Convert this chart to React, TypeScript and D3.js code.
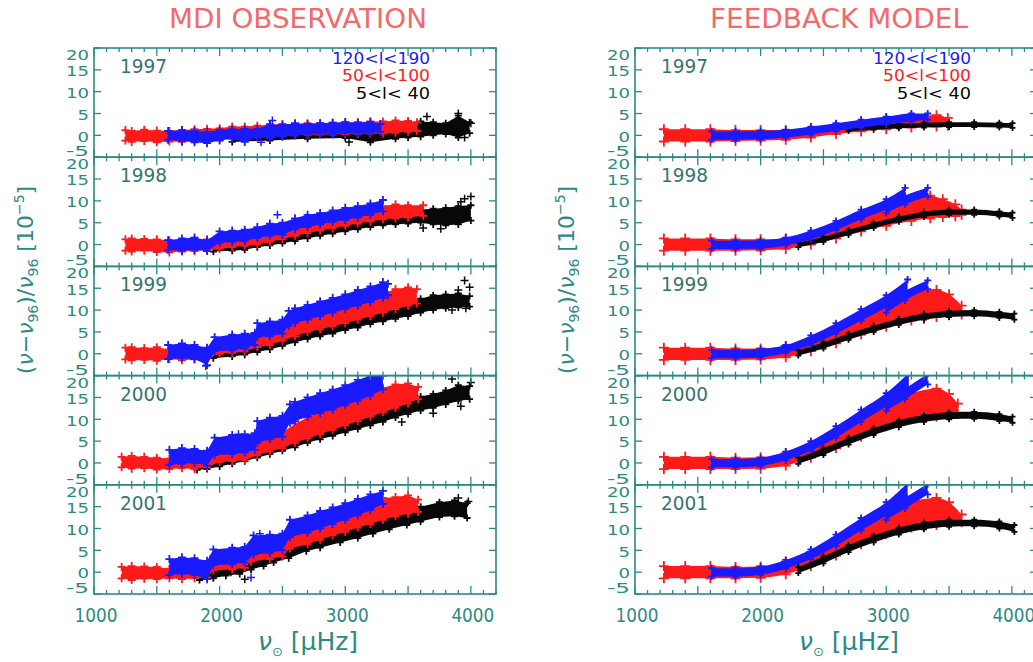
import * as d3 from "d3";

type Row = [number, number, number];
type Pt = [number, number];

const years = ["1997", "1998", "1999", "2000", "2001"];
const freqDomain: Pt = [1000, 4200];
const valueDomain: Pt = [-5, 20];
const freqLabels = [1000, 2000, 3000, 4000];
const valueTicks = [-5, 0, 5, 10, 15, 20];
const legendLabels = ["120<l<190", "50<l<100", "5<l< 40"];

// observation bands: [freq µHz, low, high] in 1e-5, one list per year
const obsRed: Row[][] = [
  [[1250,-1.2,1.2],[1300,-1.5,1.0],[1400,-1.3,1.3],[1500,-1.6,1.1],[1600,-1.4,1.0],[1700,-1.5,1.2],[1800,-1.2,1.4],[1900,-1.0,1.5],[2000,-0.9,1.6],[2100,-0.6,2.0],[2200,-0.5,2.0],[2300,-0.3,2.2],[2400,-0.2,2.5],[2500,-0.1,2.6],[2600,0.0,2.6],[2700,0.1,2.8],[2800,0.2,2.8],[2900,0.2,2.9],[3000,0.3,3.0],[3100,0.3,3.0],[3200,0.4,3.2],[3300,0.4,3.2],[3400,0.6,3.4],[3500,0.8,3.3],[3570,1.0,3.0]],
  [[1250,-1.4,1.2],[1300,-1.6,1.4],[1400,-1.4,1.3],[1500,-1.7,1.2],[1600,-1.8,1.0],[1700,-1.6,0.9],[1800,-1.5,1.0],[1900,-1.3,1.2],[2000,-1.0,1.6],[2100,-0.6,2.0],[2200,-0.3,2.5],[2300,0.0,2.6],[2400,0.6,3.0],[2500,1.2,3.8],[2600,2.0,4.8],[2700,2.6,5.4],[2800,3.2,6.0],[2900,3.7,6.5],[3000,4.3,7.2],[3100,4.8,7.8],[3200,5.3,8.3],[3300,5.8,8.8],[3400,6.0,9.2],[3500,6.2,9.0],[3620,6.6,9.0]],
  [[1250,-1.3,1.4],[1300,-1.5,1.5],[1400,-1.4,1.3],[1500,-1.6,1.5],[1600,-1.2,1.0],[1700,-1.5,0.8],[1800,-1.3,1.0],[1900,-1.0,1.2],[2000,0.0,3.0],[2100,0.2,3.2],[2200,0.5,3.5],[2300,1.5,4.5],[2400,2.0,5.0],[2500,3.0,6.5],[2600,4.0,7.5],[2700,5.0,8.5],[2800,5.6,9.4],[2900,6.3,10.2],[3000,7.0,11.0],[3100,7.8,11.8],[3200,8.6,12.8],[3300,9.4,13.8],[3400,10.2,14.8],[3500,11.0,15.2],[3570,11.5,14.8]],
  [[1220,-1.0,1.4],[1300,-1.3,1.6],[1400,-1.2,1.4],[1500,-1.5,1.2],[1600,-1.4,1.0],[1700,-1.2,0.8],[1800,-1.4,0.6],[1900,-1.0,1.0],[2000,0.2,3.2],[2100,0.4,3.4],[2200,0.6,3.6],[2300,1.8,5.6],[2400,2.6,6.0],[2500,3.4,7.0],[2600,4.6,9.0],[2700,5.6,10.4],[2800,6.6,11.6],[2900,7.6,12.6],[3000,8.6,13.6],[3100,9.6,14.8],[3200,10.6,16.0],[3300,11.6,17.2],[3400,12.6,18.0],[3500,13.6,18.2],[3580,14.6,17.4]],
  [[1220,-1.4,1.2],[1300,-1.8,1.4],[1400,-1.5,1.3],[1500,-1.6,1.2],[1600,-1.4,0.8],[1700,-1.6,0.6],[1800,-1.4,0.6],[1900,-1.2,0.8],[1950,0.4,3.8],[2100,0.6,4.0],[2200,1.0,4.2],[2250,2.4,6.4],[2400,3.0,6.8],[2500,3.6,7.4],[2560,5.4,9.6],[2700,6.4,10.8],[2800,7.4,12.0],[2900,8.4,13.0],[3000,9.2,14.0],[3100,10.2,15.0],[3200,11.0,16.0],[3300,12.0,17.0],[3400,12.8,17.2],[3500,13.4,17.6],[3580,13.8,16.6]],
];

const obsBlue: Row[][] = [
  [[1590,-1.0,1.0],[1700,-1.3,1.2],[1800,-1.6,1.0],[1900,-1.8,0.8],[2000,-1.2,1.2],[2100,-0.8,1.4],[2200,-1.5,1.5],[2300,-0.5,1.5],[2400,-0.6,2.5],[2500,-0.3,2.4],[2600,0.0,2.8],[2700,0.2,2.6],[2800,0.4,2.8],[2900,0.3,2.9],[3000,0.5,3.0],[3100,0.4,2.9],[3200,0.6,3.1],[3280,0.8,2.6]],
  [[1590,-1.2,1.0],[1700,-1.4,1.4],[1800,-1.2,1.6],[1900,-1.5,1.0],[2000,0.4,3.0],[2100,0.6,3.2],[2200,0.8,3.4],[2300,1.5,4.0],[2400,2.0,4.8],[2500,2.2,5.0],[2600,3.5,6.0],[2700,4.0,6.8],[2800,4.6,7.2],[2900,5.2,7.8],[3000,5.6,8.4],[3100,6.2,8.8],[3200,6.8,9.4],[3300,7.6,10.2]],
  [[1590,-1.2,2.0],[1700,-1.0,2.4],[1800,-1.2,2.0],[1900,-2.6,1.4],[1960,0.6,3.8],[2100,0.8,4.4],[2200,1.2,4.6],[2280,2.0,4.8],[2300,3.8,7.0],[2400,4.0,7.4],[2500,4.6,7.8],[2550,6.4,9.8],[2600,7.0,10.4],[2700,7.8,11.2],[2800,8.6,12.0],[2900,9.4,12.8],[3000,10.2,13.6],[3100,11.0,14.6],[3200,11.8,15.4],[3300,12.8,16.4],[3340,13.4,16.0]],
  [[1600,-0.4,3.0],[1700,-0.2,3.4],[1800,0.0,3.2],[1900,-0.6,2.8],[1960,1.8,5.8],[2100,2.0,6.4],[2200,2.4,6.6],[2280,3.0,6.8],[2300,4.6,9.6],[2400,5.4,10.4],[2500,6.0,10.8],[2560,9.2,13.4],[2600,9.6,14.0],[2700,10.6,15.0],[2800,11.4,16.0],[2900,12.2,16.8],[3000,13.2,17.8],[3100,14.2,19.0],[3200,15.4,20.0],[3300,16.8,20.0]],
  [[1600,-0.6,3.0],[1700,-0.4,3.4],[1800,-0.6,3.2],[1900,-1.6,2.6],[1950,1.6,5.2],[2100,1.8,5.6],[2200,2.2,5.8],[2270,4.0,8.4],[2400,4.4,8.6],[2500,5.0,8.8],[2560,8.0,12.0],[2700,9.0,13.0],[2800,10.0,14.0],[2900,11.0,14.8],[3000,12.0,15.8],[3100,13.0,16.8],[3200,14.2,17.8],[3300,15.6,18.6]],
];

const obsBlack: Row[][] = [
  [[2100,-1.5,0.5],[2400,-1.2,1.0],[2700,-0.8,1.5],[3000,-0.6,2.0],[3200,-1.6,2.2],[3400,-0.8,2.6],[3500,-0.5,3.0],[3600,-0.3,3.2],[3700,0.0,3.0],[3800,0.3,2.8],[3900,-0.5,4.5],[3990,0.5,3.0]],
  [[1950,-1.6,0.2],[2100,-1.4,0.6],[2200,-1.2,0.8],[2300,-0.6,1.2],[2400,-0.2,1.6],[2500,0.3,2.2],[2600,0.8,2.8],[2700,1.4,3.4],[2800,2.0,4.0],[2900,2.5,4.5],[3000,3.0,5.2],[3100,3.5,5.8],[3200,4.0,6.4],[3300,4.4,6.8],[3400,4.6,7.4],[3500,4.8,7.8],[3600,5.0,8.0],[3700,4.6,8.2],[3800,4.4,8.4],[3900,4.6,8.8],[4000,5.5,9.0]],
  [[1950,-1.0,1.0],[2100,-0.6,1.6],[2200,-0.2,2.0],[2300,0.4,2.8],[2400,1.0,3.4],[2500,1.8,4.2],[2600,2.6,5.0],[2700,3.4,5.8],[2800,4.0,6.6],[2900,4.6,7.4],[3000,5.4,8.2],[3100,6.0,9.0],[3200,6.8,9.6],[3300,7.4,10.4],[3400,8.0,11.0],[3500,8.6,11.8],[3600,9.4,12.6],[3700,10.0,13.4],[3800,10.4,13.6],[3900,10.6,13.8],[3990,10.8,13.2]],
  [[1820,-1.6,0.2],[1900,-1.4,0.6],[2000,-0.8,1.4],[2100,-0.2,2.0],[2200,0.4,2.8],[2300,1.2,3.6],[2400,2.0,4.4],[2500,2.8,5.2],[2600,3.6,6.4],[2700,4.6,7.4],[2800,5.4,8.2],[2900,6.2,9.0],[3000,7.0,10.0],[3100,7.8,11.0],[3200,8.6,12.0],[3300,9.4,12.8],[3400,10.4,13.8],[3500,11.2,14.6],[3600,12.0,15.2],[3700,12.6,15.8],[3800,13.4,16.6],[3900,14.2,17.8],[3990,14.6,17.6]],
  [[1840,-1.8,0.0],[1950,-1.4,0.6],[2050,-0.8,1.2],[2160,-0.4,1.8],[2250,0.6,3.0],[2350,1.4,4.0],[2430,2.2,5.0],[2550,3.2,6.2],[2690,4.8,7.8],[2800,5.6,8.6],[2960,6.8,9.8],[3100,7.8,11.0],[3220,8.8,12.0],[3350,9.8,13.0],[3490,10.8,14.2],[3600,11.6,15.0],[3750,12.6,16.0],[3870,12.8,16.4],[3970,12.4,15.8]],
];

// loose single points: [freq, value]
const obsBlackStray: Pt[][] = [
  [[3650,4.3],[3900,5.0],[3950,-0.5],[3030,-1.5],[4000,2.8]],
  [[3950,10.5],[4000,11.0],[3920,9.8],[3760,3.6],[3620,3.8]],
  [[3950,16.8],[3990,15.2],[3900,14.6],[3960,10.4],[3850,10.0]],
  [[3920,13.0],[4000,18.4],[3450,9.4],[3700,11.4],[3850,19.2]],
  [[2200,-1.6],[2090,0.0],[3900,17.0],[3980,16.2]],
];
const obsBlueStray: Pt[][] = [
  [[2420,3.4],[2330,-1.6]],
  [[2460,6.8]],
  [[1890,-2.8]],
  [[2150,6.6]],
  [[2250,-1.2],[2320,8.8]],
];

// feedback model bands
const modRed: Row[][] = [
  [[1230,-1.4,1.4],[1400,-1.4,1.4],[1600,-1.4,1.4],[1800,-1.3,1.2],[2000,-1.2,1.2],[2200,-1.0,1.2],[2400,-0.5,1.6],[2600,0.3,2.4],[2800,0.9,3.2],[3000,1.4,3.8],[3200,1.8,4.4],[3400,2.0,4.6],[3490,2.2,4.0]],
  [[1230,-1.4,1.4],[1400,-1.4,1.4],[1600,-1.4,1.4],[1800,-1.4,1.2],[2000,-1.3,1.2],[2200,-1.0,1.4],[2400,0.0,2.4],[2600,1.4,4.2],[2800,3.0,6.4],[3000,4.3,8.4],[3200,5.4,10.6],[3350,6.0,11.2],[3450,6.3,10.4],[3550,6.5,9.2],[3600,6.8,8.0]],
  [[1230,-1.4,1.4],[1400,-1.4,1.4],[1600,-1.4,1.4],[1800,-1.4,1.2],[2000,-1.3,1.2],[2200,-0.8,1.8],[2400,0.6,3.4],[2600,2.4,6.0],[2800,4.4,9.0],[3000,6.2,11.6],[3200,7.6,13.8],[3300,8.0,14.6],[3400,8.4,14.6],[3500,8.8,13.6],[3600,9.0,11.0]],
  [[1230,-1.4,1.4],[1400,-1.4,1.4],[1600,-1.4,1.4],[1800,-1.4,1.2],[2000,-1.3,1.3],[2200,-0.6,2.2],[2400,1.2,4.2],[2600,3.4,7.4],[2800,6.0,10.8],[3000,8.4,13.8],[3200,10.0,16.0],[3400,10.6,17.0],[3500,11.0,15.8],[3570,11.2,13.6]],
  [[1230,-1.4,1.4],[1400,-1.4,1.4],[1600,-1.4,1.4],[1800,-1.4,1.2],[2000,-1.3,1.3],[2200,-0.5,2.4],[2400,1.4,4.6],[2600,3.8,7.8],[2800,6.4,11.0],[3000,8.8,14.0],[3200,10.2,16.2],[3400,10.8,17.0],[3500,11.2,16.0],[3600,11.4,13.2]],
];

const modBlue: Row[][] = [
  [[1610,-1.0,0.9],[1800,-1.0,0.9],[2000,-0.9,1.0],[2200,-0.5,1.3],[2400,0.2,2.0],[2600,1.0,2.8],[2800,1.8,3.6],[3000,2.5,4.3],[3200,3.2,5.0],[3330,3.6,5.0]],
  [[1610,-1.0,0.9],[1800,-1.0,0.9],[2000,-0.9,1.0],[2200,-0.2,1.6],[2400,1.2,3.2],[2600,3.3,5.4],[2800,5.8,8.0],[3000,8.0,10.4],[3150,10.6,13.0]],
  [[1610,-1.0,0.9],[1800,-1.0,0.9],[2000,-0.8,1.1],[2200,0.2,2.0],[2400,2.0,4.2],[2600,4.6,7.0],[2800,7.6,10.2],[3000,10.6,13.4],[3170,13.8,17.0]],
  [[1610,-1.0,0.9],[1800,-1.0,0.9],[2000,-0.7,1.2],[2200,0.6,2.6],[2400,2.8,5.0],[2600,5.8,8.4],[2800,9.4,12.2],[3000,13.0,16.0],[3180,16.8,20.6]],
  [[1610,-1.0,0.9],[1800,-1.0,0.9],[2000,-0.6,1.3],[2200,0.8,2.8],[2400,3.0,5.2],[2600,6.0,8.6],[2800,9.6,12.4],[3000,13.0,16.0],[3170,16.8,20.4]],
];

const modBlueBranch: Row[][] = [
  [],
  [[3000,7.2,9.0],[3150,9.2,11.2],[3330,11.0,13.0]],
  [[3000,9.4,11.4],[3150,12.2,14.4],[3330,14.8,16.8]],
  [[3000,12.0,13.8],[3150,14.6,17.0],[3330,18.0,20.4]],
  [[3000,12.0,13.8],[3150,14.6,17.0],[3330,17.8,20.2]],
];

const modBlack: Row[][] = [
  [[2700,1.0,2.0],[2900,1.3,2.4],[3100,1.6,2.7],[3300,1.8,2.9],[3500,1.9,3.0],[3700,1.9,3.0],[3900,1.8,2.9],[4005,1.7,2.8]],
  [[2300,-0.6,0.4],[2500,0.6,1.8],[2700,2.2,3.4],[2900,3.8,5.0],[3100,5.2,6.4],[3300,6.3,7.5],[3500,6.8,8.0],[3700,6.8,8.0],[3900,6.4,7.6],[4005,6.1,7.3]],
  [[2300,-0.4,0.8],[2500,1.2,2.6],[2700,3.2,4.6],[2900,5.0,6.4],[3100,6.6,8.0],[3300,7.8,9.2],[3500,8.4,9.8],[3700,8.6,10.0],[3900,8.2,9.6],[4020,7.8,9.2]],
  [[2300,-0.2,1.2],[2500,1.8,3.4],[2700,4.2,5.8],[2900,6.4,8.0],[3100,8.2,9.8],[3300,9.4,11.0],[3500,10.0,11.6],[3700,10.1,11.7],[3900,9.6,11.2],[4005,9.2,10.6]],
  [[2300,-0.2,1.2],[2500,2.0,3.6],[2700,4.6,6.2],[2900,6.8,8.4],[3100,8.6,10.2],[3300,9.8,11.4],[3500,10.4,12.0],[3700,10.5,12.0],[3900,10.0,11.6],[4020,9.2,10.8]],
];

const RED = "#ff1a1a";
const BLUE = "#1a1aff";
const BLACK = "#080808";
const TEAL = "#2c8a83";
const LABEL = "#35746f";
const TITLE = "#f26a6a";
const FONT = "DejaVu Sans";

const panelTop0 = 48;
const panelH = 109.2;

type Scale = d3.ScaleLinear<number, number>;

function crosses(pts: Pt[], x: Scale, y: Scale, s: number) {
  return pts.map(([f, v]) => `M${x(f) - s},${y(v)}h${2 * s}M${x(f)},${y(v) - s}v${2 * s}`).join("");
}

function Band({ rows, x, y, color, smooth, size = 4 }: { rows: Row[]; x: Scale; y: Scale; color: string; smooth?: boolean; size?: number }) {
  if (!rows.length) return null;
  const area = d3.area<Row>().x(d => x(d[0])).y0(d => y(d[1])).y1(d => y(d[2]))
    .curve(smooth ? d3.curveMonotoneX : d3.curveLinear);
  const edge: Pt[] = rows.flatMap(d => [[d[0], d[1]], [d[0], d[2]]] as Pt[]);
  return (
    <g>
      <path d={area(rows) || ""} fill={color} />
      <path d={crosses(edge, x, y, size)} stroke={color} strokeWidth={1.8} fill="none" />
    </g>
  );
}

// IDL-style inset for the end labels of each panel
const labelShift = (v: number) => (v === 20 ? 7 : v === -5 ? -6 : 1.3);

function Column({ left, title, kind }: { left: number; title: string; kind: "obs" | "mod" }) {
  const right = left + 402;
  const x = d3.scaleLinear().domain(freqDomain).range([left, right]);
  const minor = d3.range(freqDomain[0], freqDomain[1] + 1, 100);
  return (
    <g>
      <text x={left + 204} y={28} textAnchor="middle" fontSize={27} fill={TITLE} textLength={258} lengthAdjust="spacingAndGlyphs">{title}</text>
      {years.map((yr, i) => {
        const top = panelTop0 + i * panelH, bot = top + panelH;
        const y = d3.scaleLinear().domain(valueDomain).range([bot, top]);
        const cid = `clip-${kind}-${i}`;
        return (
          <g key={yr}>
            <clipPath id={cid}><rect x={left} y={top} width={right - left} height={panelH} /></clipPath>
            <g clipPath={`url(#${cid})`}>
              {kind === "obs" ? (
                <>
                  <Band rows={obsBlack[i]} x={x} y={y} color={BLACK} size={3.5} />
                  <path d={crosses(obsBlackStray[i], x, y, 4)} stroke={BLACK} strokeWidth={1.5} fill="none" />
                  <Band rows={obsRed[i]} x={x} y={y} color={RED} />
                  <Band rows={obsBlue[i]} x={x} y={y} color={BLUE} />
                  <path d={crosses(obsBlueStray[i], x, y, 4)} stroke={BLUE} strokeWidth={1.5} fill="none" />
                </>
              ) : (
                <>
                  <Band rows={modRed[i]} x={x} y={y} color={RED} smooth size={5} />
                  <Band rows={modBlack[i]} x={x} y={y} color={BLACK} smooth size={3} />
                  <Band rows={modBlue[i]} x={x} y={y} color={BLUE} smooth size={3.5} />
                  <Band rows={modBlueBranch[i]} x={x} y={y} color={BLUE} smooth size={3.5} />
                </>
              )}
            </g>
            <rect x={left} y={top} width={right - left} height={panelH} fill="none" stroke={TEAL} strokeWidth={1.6} />
            {minor.map(f => {
              const len = f % 500 === 0 ? 8 : 4;
              return (
                <g key={f}>
                  <line x1={x(f)} x2={x(f)} y1={bot} y2={bot - len} stroke={TEAL} strokeWidth={1.3} />
                  <line x1={x(f)} x2={x(f)} y1={top} y2={top + len} stroke={TEAL} strokeWidth={1.3} />
                </g>
              );
            })}
            {valueTicks.map(v => (
              <g key={v}>
                <line x1={left} x2={left + 7} y1={y(v)} y2={y(v)} stroke={TEAL} strokeWidth={1.3} />
                <line x1={right} x2={right - 7} y1={y(v)} y2={y(v)} stroke={TEAL} strokeWidth={1.3} />
                <text x={left - 5} y={y(v) + labelShift(v) + 5} textAnchor="end" fontSize={13.5} fill={TEAL}
                  textLength={String(v).length * 11.5} lengthAdjust="spacingAndGlyphs">{String(v)}</text>
              </g>
            ))}
            <text x={left + 26} y={top + 25} fontSize={19} fill={LABEL} textLength={47} lengthAdjust="spacingAndGlyphs">{yr}</text>
            {i === 0 && (
              <g fontSize={16.5} textAnchor="end">
                <text x={left + 336} y={top + 15.5} fill={BLUE} textLength={98} lengthAdjust="spacingAndGlyphs">{legendLabels[0]}</text>
                <text x={left + 336} y={top + 33} fill={RED} textLength={88} lengthAdjust="spacingAndGlyphs">{legendLabels[1]}</text>
                <text x={left + 336} y={top + 50.5} fill={BLACK} textLength={74} lengthAdjust="spacingAndGlyphs">{legendLabels[2]}</text>
              </g>
            )}
          </g>
        );
      })}
      {freqLabels.map(f => (
        <text key={f} x={x(f) + 2} y={622} textAnchor="middle" fontSize={20} fill={TEAL} textLength={43} lengthAdjust="spacingAndGlyphs">{f}</text>
      ))}
      <text x={left + 214} y={650} textAnchor="middle" fontSize={25} fill={TEAL}>
        <tspan fontStyle="italic">ν</tspan>
        <tspan fontSize={13} dy={6}>⊙</tspan>
        <tspan dy={-6}> [μHz]</tspan>
      </text>
      <text transform={`translate(${left - 69},280) rotate(-90)`} textAnchor="middle" fontSize={22} fill={TEAL} dy="0.35em">
        (<tspan fontStyle="italic">ν</tspan>−<tspan fontStyle="italic">ν</tspan>
        <tspan fontSize={14} dy={5}>96</tspan>
        <tspan dy={-5}>)/</tspan><tspan fontStyle="italic">ν</tspan>
        <tspan fontSize={14} dy={5}>96</tspan>
        <tspan dy={-5}> [10</tspan>
        <tspan fontSize={14} dy={-9}>−5</tspan>
        <tspan dy={9}>]</tspan>
      </text>
    </g>
  );
}

export default function App() {
  return (
    <svg width={1033} height={662} style={{ position: "absolute", left: 0, top: 0, background: "#fff" }} fontFamily={FONT}>
      <rect width={1033} height={662} fill="#fff" />
      <Column left={94} title="MDI OBSERVATION" kind="obs" />
      <Column left={635} title="FEEDBACK MODEL" kind="mod" />
    </svg>
  );
}
